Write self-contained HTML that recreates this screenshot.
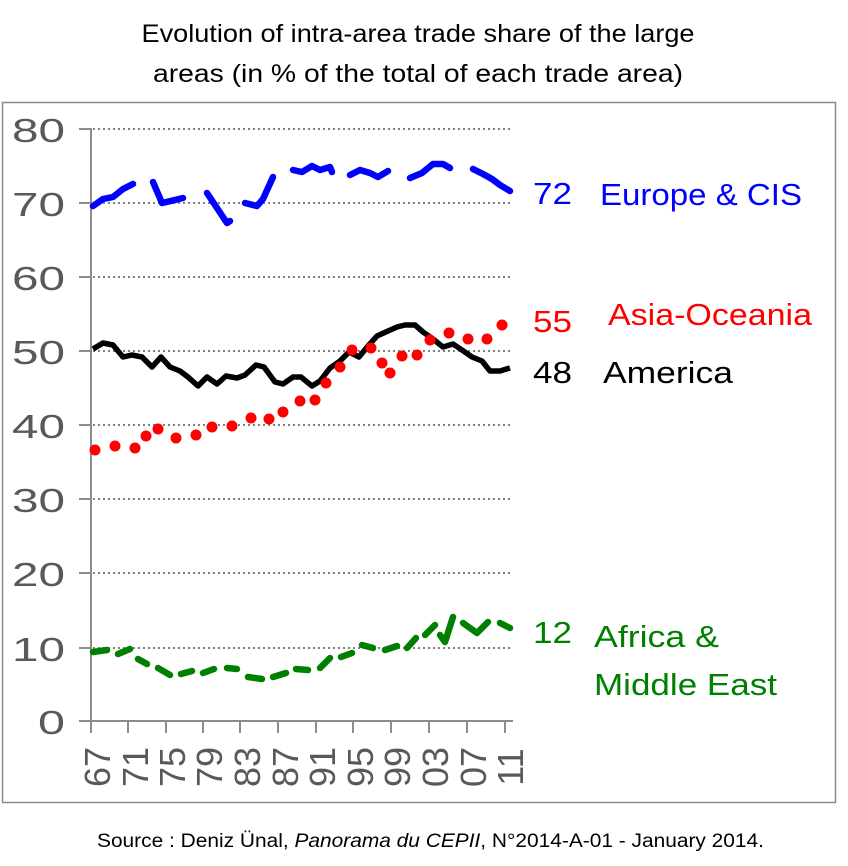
<!DOCTYPE html>
<html><head><meta charset="utf-8"><style>
html,body{margin:0;padding:0;background:#fff;}
svg{display:block;font-family:"Liberation Sans",Arial,sans-serif;}
</style></head><body>
<svg width="848" height="866" viewBox="0 0 848 866" xmlns="http://www.w3.org/2000/svg">
<rect width="848" height="866" fill="#fff"/>
<text x="418" y="42" font-size="25" text-anchor="middle" fill="#000" textLength="553" lengthAdjust="spacingAndGlyphs">Evolution of intra-area trade share of the large</text>
<text x="418" y="82" font-size="25" text-anchor="middle" fill="#000" textLength="530" lengthAdjust="spacingAndGlyphs">areas (in % of the total of each trade area)</text>
<rect x="2.5" y="102.5" width="833" height="700" fill="none" stroke="#898989" stroke-width="1.5"/>
<g stroke="#808080" stroke-width="2" stroke-dasharray="2 3">
<line x1="93" y1="129" x2="512" y2="129"/><line x1="93" y1="203" x2="512" y2="203"/><line x1="93" y1="277" x2="512" y2="277"/><line x1="93" y1="351" x2="512" y2="351"/><line x1="93" y1="425" x2="512" y2="425"/><line x1="93" y1="499" x2="512" y2="499"/><line x1="93" y1="573" x2="512" y2="573"/><line x1="93" y1="648" x2="512" y2="648"/>
</g>
<g stroke="#8c8c8c" stroke-width="2">
<line x1="91" y1="128" x2="91" y2="722"/><line x1="79" y1="721" x2="513" y2="721"/>
<line x1="79" y1="129" x2="91" y2="129"/><line x1="79" y1="203" x2="91" y2="203"/><line x1="79" y1="277" x2="91" y2="277"/><line x1="79" y1="351" x2="91" y2="351"/><line x1="79" y1="425" x2="91" y2="425"/><line x1="79" y1="499" x2="91" y2="499"/><line x1="79" y1="573" x2="91" y2="573"/><line x1="79" y1="648" x2="91" y2="648"/>
<line x1="91" y1="721" x2="91" y2="733"/><line x1="128" y1="721" x2="128" y2="733"/><line x1="166" y1="721" x2="166" y2="733"/><line x1="203" y1="721" x2="203" y2="733"/><line x1="240" y1="721" x2="240" y2="733"/><line x1="278" y1="721" x2="278" y2="733"/><line x1="316" y1="721" x2="316" y2="733"/><line x1="353" y1="721" x2="353" y2="733"/><line x1="391" y1="721" x2="391" y2="733"/><line x1="429" y1="721" x2="429" y2="733"/><line x1="467" y1="721" x2="467" y2="733"/><line x1="505" y1="721" x2="505" y2="733"/>
</g>
<g font-size="33" fill="#595959">
<text x="12" y="142" textLength="53" lengthAdjust="spacingAndGlyphs">80</text>
<text x="12" y="216" textLength="53" lengthAdjust="spacingAndGlyphs">70</text>
<text x="12" y="290" textLength="53" lengthAdjust="spacingAndGlyphs">60</text>
<text x="12" y="364" textLength="53" lengthAdjust="spacingAndGlyphs">50</text>
<text x="12" y="438" textLength="53" lengthAdjust="spacingAndGlyphs">40</text>
<text x="12" y="512" textLength="53" lengthAdjust="spacingAndGlyphs">30</text>
<text x="12" y="586" textLength="53" lengthAdjust="spacingAndGlyphs">20</text>
<text x="12" y="661" textLength="53" lengthAdjust="spacingAndGlyphs">10</text>
<text x="38" y="734" textLength="27" lengthAdjust="spacingAndGlyphs">0</text>
</g>
<g font-size="36" fill="#595959" text-anchor="middle">
<text transform="translate(110,767) rotate(-90)">67</text>
<text transform="translate(148,767) rotate(-90)">71</text>
<text transform="translate(185,767) rotate(-90)">75</text>
<text transform="translate(222,767) rotate(-90)">79</text>
<text transform="translate(260,767) rotate(-90)">83</text>
<text transform="translate(298,767) rotate(-90)">87</text>
<text transform="translate(335,767) rotate(-90)">91</text>
<text transform="translate(373,767) rotate(-90)">95</text>
<text transform="translate(410,767) rotate(-90)">99</text>
<text transform="translate(448,767) rotate(-90)">03</text>
<text transform="translate(486,767) rotate(-90)">07</text>
<text transform="translate(523,767) rotate(-90)">11</text>
</g>
<g fill="none" stroke="#0000ff" stroke-width="6.5" stroke-linecap="round" stroke-linejoin="round">
<polyline points="93,206 103,199 113,197 123,189 133,184"/>
<polyline points="153,182 162,203 172,200.7 183,198"/>
<polyline points="207,193 215,205 227,223 230,221"/>
<polyline points="245,203 257,206 263,199 273,177"/>
<polyline points="293,170 302,172 312,166 320,170 330,167 332,172"/>
<polyline points="350,175 360,170 370,173 378,177 388,171"/>
<polyline points="410,178 422,173 433,164 443,164 450,168"/>
<polyline points="473,169 483,174 492,179 500,185 510,191"/>
</g>
<polyline fill="none" stroke="#000" stroke-width="5.5" stroke-linejoin="round" points="93,349 103,343 113,345 123,357 132,355 142,357 152,367 161,357 170,367 180,371 188,377 198,386 207,377 217,384 226,376 237,378 245,375 256,365 264,367 275,382 283,384 293,377 301,377 312,386 320,381 330,368 340,361 349,352 359,357 368,346 377,336 388,331 397,327 405,325 415,325 423,332 433,339 443,347 453,344 462,350 472,357 482,361 490,371 500,371 510,368"/>
<g fill="#ff0000">
<circle cx="95" cy="450" r="5.5"/><circle cx="115" cy="446" r="5.5"/><circle cx="135" cy="448" r="5.5"/><circle cx="146" cy="436" r="5.5"/><circle cx="158" cy="429" r="5.5"/><circle cx="176" cy="438" r="5.5"/><circle cx="196" cy="435" r="5.5"/><circle cx="212" cy="427" r="5.5"/><circle cx="232" cy="426" r="5.5"/><circle cx="251" cy="418" r="5.5"/><circle cx="269" cy="419" r="5.5"/><circle cx="283" cy="412" r="5.5"/><circle cx="300" cy="401" r="5.5"/><circle cx="315" cy="400" r="5.5"/><circle cx="326" cy="383" r="5.5"/><circle cx="340" cy="367" r="5.5"/><circle cx="352" cy="350" r="5.5"/><circle cx="371" cy="348" r="5.5"/><circle cx="382" cy="363" r="5.5"/><circle cx="390" cy="373" r="5.5"/><circle cx="402" cy="356" r="5.5"/><circle cx="417" cy="355" r="5.5"/><circle cx="430" cy="340" r="5.5"/><circle cx="449" cy="333" r="5.5"/><circle cx="468" cy="339" r="5.5"/><circle cx="487" cy="339" r="5.5"/><circle cx="502" cy="325" r="5.5"/>
</g>
<g fill="none" stroke="#008000" stroke-width="6.5" stroke-linecap="round" stroke-linejoin="round">
<polyline points="93,652 107,650"/><polyline points="118,654 130,649"/><polyline points="138,659 147,664"/><polyline points="158,668 170,675"/><polyline points="181,674 192,671"/><polyline points="203,673 214,669"/><polyline points="227,668 237,669"/><polyline points="248,677 262,679"/><polyline points="273,677 286,673"/><polyline points="296,669 308,670"/><polyline points="320,668 330,658"/><polyline points="341,657 352,653"/><polyline points="362,645 373,648"/><polyline points="385,650 397,646"/><polyline points="407,648 416,638"/><polyline points="425,635 435,625"/><polyline points="440,635 445,642 453,617"/><polyline points="463,623 477,633 488,622"/><polyline points="500,623 510,628"/>
</g>
<g font-size="31">
<text x="533" y="204" fill="#0000ff" textLength="39" lengthAdjust="spacingAndGlyphs">72</text><text x="600" y="205" fill="#0000ff" textLength="202" lengthAdjust="spacingAndGlyphs">Europe &amp; CIS</text>
<text x="533" y="332" fill="#ff0000" textLength="39" lengthAdjust="spacingAndGlyphs">55</text><text x="608" y="325" fill="#ff0000" textLength="204" lengthAdjust="spacingAndGlyphs">Asia-Oceania</text>
<text x="533" y="383" fill="#000" textLength="39" lengthAdjust="spacingAndGlyphs">48</text><text x="603" y="383" fill="#000" textLength="130" lengthAdjust="spacingAndGlyphs">America</text>
<text x="533" y="643" fill="#008000" textLength="39" lengthAdjust="spacingAndGlyphs">12</text><text x="594" y="647" fill="#008000" textLength="125" lengthAdjust="spacingAndGlyphs">Africa &amp;</text><text x="594" y="695" fill="#008000" textLength="183" lengthAdjust="spacingAndGlyphs">Middle East</text>
</g>
<text x="97" y="847" font-size="19" fill="#000" textLength="667" lengthAdjust="spacingAndGlyphs">Source : Deniz Ünal, <tspan font-style="italic">Panorama du CEPII</tspan>, N°2014-A-01 - January 2014.</text>
</svg>
</body></html>
